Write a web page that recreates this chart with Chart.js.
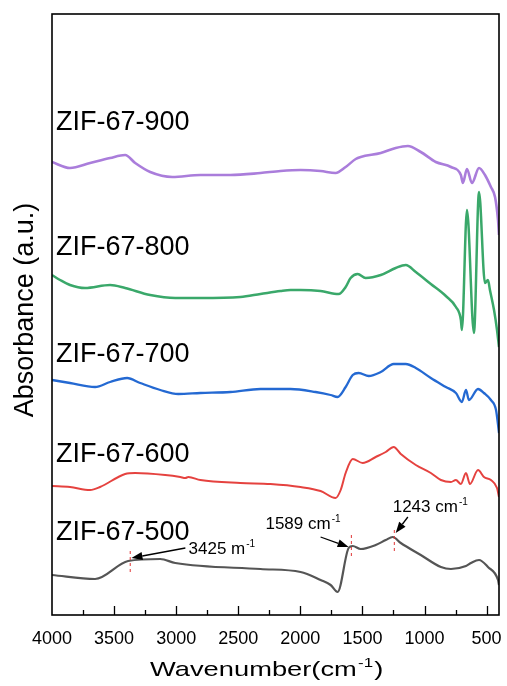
<html>
<head>
<script src="https://cdn.jsdelivr.net/npm/chart.js@4.4.0/dist/chart.umd.min.js"></script>
<style>
  body { margin: 0; background: #fff; }
</style>
</head>
<body>
<canvas id="myChart" width="507" height="686"></canvas>
<script>
// FTIR spectra, offset vertically (absorbance in arbitrary units)
var tickVals = [4000, 3500, 3000, 2500, 2000, 1500, 1000, 500];

var wn500 = [4000,3653,3387,3128,3007,2321,1998,1837,1756,1700,1611,1578,1514,1393,1312,1256,1191,1030,868,787,666,626,561,489,408,400];
var abs500 = [40,36,54,56,52,46,43,35,30,23,67,69,66,70,75,78,72,60,48,46,49,52,55,48,35,30];

var wn600 = [4000,3855,3693,3613,3411,3330,3088,2967,2926,2902,2805,2483,2240,1998,1837,1716,1675,1635,1578,1498,1393,1312,1248,1191,1070,949,868,787,747,707,666,634,569,521,465,416,400];
var abs600 = [129,128,125,128,141,142,140,138,137,138,135,132,131,128,124,117,125,142,156,152,158,163,168,161,150,142,135,133,135,131,142,131,145,138,135,127,118];

var wn700 = [4000,3855,3653,3532,3395,3290,3128,2983,2805,2563,2321,2079,1877,1756,1700,1635,1578,1530,1449,1352,1248,1151,1070,949,828,747,699,666,642,569,521,465,424,400];
var abs700 = [235,232,228,233,237,232,225,221,222,223,226,226,223,220,218,228,240,242,239,243,251,251,247,237,228,222,213,225,215,226,222,215,205,182];

var wn800 = [4000,3935,3855,3734,3532,3411,3209,3007,2805,2483,2321,2160,2079,1998,1837,1692,1635,1595,1538,1474,1352,1232,1151,1070,949,828,747,707,699,658,602,561,513,489,473,440,416,400];
var abs800 = [340,335,330,327,330,327,320,317,317,318,321,324,325,325,324,321,328,337,341,337,340,347,350,343,331,319,308,295,285,405,282,423,332,335,325,305,285,268];

var wn900 = [4000,3855,3693,3532,3411,3330,3209,3031,2805,2563,2321,2160,1998,1837,1716,1635,1554,1514,1352,1232,1134,1030,909,787,707,691,658,618,561,513,465,432,408,400];
var abs900 = [453,447,452,457,460,452,443,438,440,440,442,444,445,444,442,448,456,458,462,467,469,463,453,448,440,432,446,432,447,440,428,418,395,380];

var sampleNames = ["ZIF-67-500", "ZIF-67-600", "ZIF-67-700", "ZIF-67-800", "ZIF-67-900"];
var nameBase = [75, 153, 253, 360, 485];

// peak marks on the ZIF-67-500 curve
var peakText = ["3425 m", "1589 cm", "1243 cm"];
var peakWn = [3370, 1589, 1243];
var peakLo = [42, 57, 61];
var peakHi = [64, 80, 85];
var textWn = [2900, 2281, 1256];
var textBase = [61, 86, 103];
var arrowFromWn = [2926, 1837, 1134];
var arrowFromY = [67, 78, 98];
var arrowToWn = [3360, 1611, 1232];
var arrowToY = [57, 68, 82];

var colors = ["#555555", "#e5423f", "#2469d2", "#3aa86a", "#aa7ddb"];
var widths = [2.2, 2, 2.3, 2.5, 2.6];

function pts(xs, ys) {
    return xs.map(function (x, i) { return { x: x, y: ys[i] }; });
}

var series = [pts(wn500, abs500), pts(wn600, abs600), pts(wn700, abs700), pts(wn800, abs800), pts(wn900, abs900)];

function supText(ctx, x, y, base, sup, size, sx) {
    sx = sx || 1;
    ctx.save();
    ctx.translate(x, y);
    ctx.scale(sx, 1);
    ctx.font = size + "px 'Liberation Sans', Arial, sans-serif";
    ctx.textAlign = "left";
    ctx.textBaseline = "alphabetic";
    ctx.fillText(base, 0, 0);
    var w = ctx.measureText(base).width;
    ctx.font = Math.round(size * 0.6) + "px 'Liberation Sans', Arial, sans-serif";
    ctx.fillText(sup, w + 1, -size * 0.42);
    var w2 = ctx.measureText(sup).width;
    ctx.restore();
    return x + (w + 1 + w2) * sx;
}

function arrow(ctx, x1, y1, x2, y2) {
    var a = Math.atan2(y2 - y1, x2 - x1);
    var L = 11, W = 4;
    var bx = x2 - L * Math.cos(a), by = y2 - L * Math.sin(a);
    ctx.beginPath();
    ctx.moveTo(x1, y1);
    ctx.lineTo(bx, by);
    ctx.stroke();
    ctx.beginPath();
    ctx.moveTo(x2, y2);
    ctx.lineTo(bx + W * Math.sin(a), by - W * Math.cos(a));
    ctx.lineTo(bx - W * Math.sin(a), by + W * Math.cos(a));
    ctx.closePath();
    ctx.fill();
}

var decor = {
    id: "decor",
    afterDraw: function (chart) {
        var ctx = chart.ctx, a = chart.chartArea;
        var xs = chart.scales.x, ys = chart.scales.y;
        ctx.save();
        ctx.strokeStyle = "#000";
        ctx.fillStyle = "#000";
        ctx.lineWidth = 1.6;
        ctx.strokeRect(a.left, a.top, a.right - a.left, a.bottom - a.top);

        // inward ticks
        ctx.lineWidth = 1.3;
        ctx.beginPath();
        for (var v = 3750; v >= 500; v -= 250) {
            var px = Math.round(xs.getPixelForValue(v)) + 0.5;
            var len = v % 500 === 0 ? 9 : 5;
            ctx.moveTo(px, a.bottom);
            ctx.lineTo(px, a.bottom - len);
        }
        ctx.stroke();

        // axis titles
        var ex = supText(ctx, 150, 676, "Wavenumber(cm", "-1", 21, 1.3);
        ctx.save();
        ctx.translate(ex + 1, 676);
        ctx.scale(1.3, 1);
        ctx.font = "21px 'Liberation Sans', Arial, sans-serif";
        ctx.textAlign = "left";
        ctx.fillText(")", 0, 0);
        ctx.restore();

        ctx.save();
        ctx.translate(33, 310);
        ctx.rotate(-Math.PI / 2);
        ctx.font = "27px 'Liberation Sans', Arial, sans-serif";
        ctx.textAlign = "center";
        ctx.fillText("Absorbance (a.u.)", 0, 0);
        ctx.restore();

        // sample names
        ctx.font = "27px 'Liberation Sans', Arial, sans-serif";
        ctx.textAlign = "left";
        ctx.textBaseline = "alphabetic";
        sampleNames.forEach(function (n, i) {
            ctx.fillText(n, xs.getPixelForValue(3968), ys.getPixelForValue(nameBase[i]));
        });

        // peak markers
        peakWn.forEach(function (w, i) {
            var px = xs.getPixelForValue(w);
            ctx.save();
            ctx.strokeStyle = "#e03535";
            ctx.lineWidth = 1;
            ctx.setLineDash([3, 3]);
            ctx.beginPath();
            ctx.moveTo(px, ys.getPixelForValue(peakHi[i]));
            ctx.lineTo(px, ys.getPixelForValue(peakLo[i]));
            ctx.stroke();
            ctx.restore();

            ctx.lineWidth = 1.3;
            arrow(ctx, xs.getPixelForValue(arrowFromWn[i]), ys.getPixelForValue(arrowFromY[i]),
                xs.getPixelForValue(arrowToWn[i]), ys.getPixelForValue(arrowToY[i]));
            supText(ctx, xs.getPixelForValue(textWn[i]), ys.getPixelForValue(textBase[i]), peakText[i], "-1", 17);
        });
        ctx.restore();
    }
};

var ctx = document.getElementById("myChart").getContext("2d");
var chart = new Chart(ctx, {
    type: "line",
    data: {
        datasets: series.map(function (d, i) {
            return {
                label: sampleNames[i],
                data: d,
                borderColor: colors[i],
                borderWidth: widths[i],
                pointRadius: 0,
                cubicInterpolationMode: "monotone",
                borderJoinStyle: "round",
                fill: false
            };
        })
    },
    options: {
        animation: false,
        responsive: false,
        layout: { padding: { left: 52, right: 8, top: 14, bottom: 0 } },
        plugins: { legend: { display: false }, tooltip: { enabled: false } },
        scales: {
            x: {
                type: "linear",
                reverse: true,
                min: 400,
                max: 4000,
                afterBuildTicks: function (s) {
                    s.ticks = tickVals.map(function (v) { return { value: v }; });
                },
                afterFit: function (s) {
                    s.height = 71;
                    s.paddingLeft = 0;
                    s.paddingRight = 0;
                },
                grid: { display: false, drawTicks: false },
                border: { display: false },
                ticks: {
                    color: "#000",
                    padding: 13,
                    maxRotation: 0,
                    autoSkip: false,
                    font: { family: "'Liberation Sans', Arial, sans-serif", size: 18 },
                    callback: function (v) { return String(v); }
                }
            },
            y: { display: false, min: 0, max: 601 }
        }
    },
    plugins: [decor]
});
</script>
</body>
</html>
